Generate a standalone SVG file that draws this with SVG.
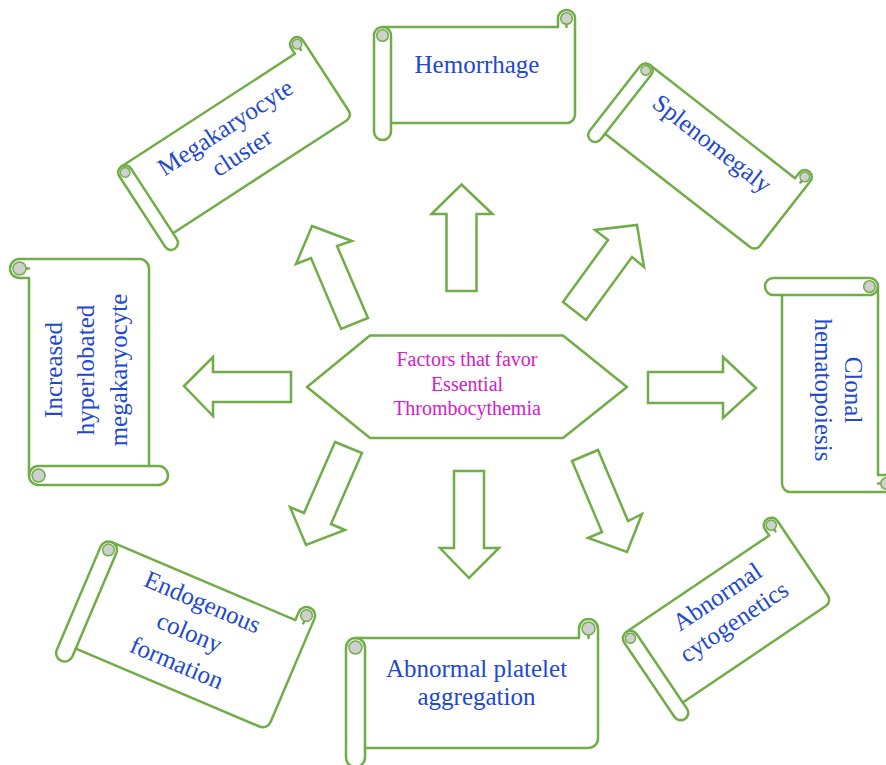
<svg xmlns="http://www.w3.org/2000/svg" width="886" height="765" viewBox="0 0 886 765">
<style>
.sc{fill:#fff;stroke:#70AD47;stroke-width:2.5;stroke-linejoin:round}
.dt{fill:none;stroke:#70AD47;stroke-width:2.5;stroke-linecap:round}
.gr{fill:#CFCFCF;stroke:#70AD47;stroke-width:1.5}
.ar{fill:#fff;stroke:#70AD47;stroke-width:2.5;stroke-linejoin:miter}
.t{font-family:"Liberation Serif","Times New Roman",serif;font-size:25px;fill:#2148D2;text-anchor:middle}
.c{font-family:"Liberation Serif","Times New Roman",serif;font-size:20px;fill:#D020CC;text-anchor:middle}
</style>
<rect width="886" height="765" fill="#fff"/>
<g id="connectors">
<polygon class="ar" points="461.5,184.5 492.5,214 476.5,214 476.5,291 446.5,291 446.5,214 431.5,214"/>
<polygon class="ar" points="312,226 352,241 337,246 368,318 341,329 311,258 296,264"/>
<polygon class="ar" points="637,225 644,267 632,257 586,320 563,302 608,240 595,230"/>
<polygon class="ar" points="184,386 213,357 213,372 291,372 291,402 213,402 213,416"/>
<polygon class="ar" points="756,388 723,357 723,372 648,372 648,403 723,403 723,418"/>
<polygon class="ar" points="335,442 362,453 331,524 345,530 306,545 290,507 304,513"/>
<polygon class="ar" points="454,471 484,471 484,548 499,548 469,578 440,548 454,548"/>
<polygon class="ar" points="572,461 598,450 628,521 642,514 627,552 588,538 602,532"/>
</g>
<g id="center">
<polygon class="sc" points="307,387 370,335.5 563,335.5 627,387 563,438 370,438"/>
<text class="c" x="467" y="366">Factors that favor</text>
<text class="c" x="467" y="391">Essential</text>
<text class="c" x="467" y="415">Thrombocythemia</text>
</g>
<g id="hemorrhage" transform="translate(474.5,75)">
<path class="sc" d="M-100.5,-39.5 A8.5,8.5 0 0 1 -92,-48 L83.5,-48 L83.5,-56.5 A8.5,8.5 0 0 1 100.5,-56.5 L100.5,39.5 A8.5,8.5 0 0 1 92,48 L-83.5,48 L-83.5,56.5 A8.5,8.5 0 0 1 -100.5,56.5 Z"/>
<path class="dt" d="M-92,-48 A8.5,8.5 0 0 1 -83.5,-39.5 L-83.5,48 M92,-48 L92,-56.5"/>
<circle class="gr" cx="92" cy="-56.5" r="5.8"/><circle class="gr" cx="-92" cy="-39.5" r="5.8"/>
<text class="t" x="2.5" y="-2">Hemorrhage</text>
</g>
<g id="platelet" transform="translate(472,693)">
<path class="sc" d="M-126,-45.5 A9.5,9.5 0 0 1 -116.5,-55 L107,-55 L107,-64.5 A9.5,9.5 0 0 1 126,-64.5 L126,45.5 A9.5,9.5 0 0 1 116.5,55 L-107,55 L-107,64.5 A9.5,9.5 0 0 1 -126,64.5 Z"/>
<path class="dt" d="M-116.5,-55 A9.5,9.5 0 0 1 -107,-45.5 L-107,55 M116.5,-55 L116.5,-64.5"/>
<circle class="gr" cx="116.5" cy="-64.5" r="6.5"/><circle class="gr" cx="-116.5" cy="-45.5" r="6.5"/>
<text class="t" x="4.5" y="-16">Abnormal platelet</text>
<text class="t" x="4.5" y="12">aggregation</text>
</g>
<g id="megakaryocyte" transform="translate(234,143.5) rotate(-33)">
<path class="sc" d="M-114,-35 A7,7 0 0 1 -107,-42 L100,-42 L100,-49 A7,7 0 0 1 114,-49 L114,35 A7,7 0 0 1 107,42 L-100,42 L-100,49 A7,7 0 0 1 -114,49 Z"/>
<path class="dt" d="M-107,-42 A7,7 0 0 1 -100,-35 L-100,42 M107,-42 L107,-49"/>
<circle class="gr" cx="107" cy="-49" r="4.8"/><circle class="gr" cx="-107" cy="-35" r="4.8"/>
<text class="t" x="1.5" y="-10">Megakaryocyte</text>
<text class="t" x="1.5" y="20">cluster</text>
</g>
<g id="splenomegaly" transform="translate(700,156) rotate(38)">
<path class="sc" d="M-102.5,-34 A7,7 0 0 1 -95.5,-41 L88.5,-41 L88.5,-48 A7,7 0 0 1 102.5,-48 L102.5,34 A7,7 0 0 1 95.5,41 L-88.5,41 L-88.5,48 A7,7 0 0 1 -102.5,48 Z"/>
<path class="dt" d="M-95.5,-41 A7,7 0 0 1 -88.5,-34 L-88.5,41 M95.5,-41 L95.5,-48"/>
<circle class="gr" cx="95.5" cy="-48" r="4.8"/><circle class="gr" cx="-95.5" cy="-34" r="4.8"/>
<text class="t" x="2" y="-9">Splenomegaly</text>
</g>
<g id="hyperlobated" transform="translate(89,372) rotate(-90)">
<path class="sc" d="M-113,-50.5 A9.5,9.5 0 0 1 -103.5,-60 L94,-60 L94,-69.5 A9.5,9.5 0 0 1 113,-69.5 L113,50.5 A9.5,9.5 0 0 1 103.5,60 L-94,60 L-94,69.5 A9.5,9.5 0 0 1 -113,69.5 Z"/>
<path class="dt" d="M-103.5,-60 A9.5,9.5 0 0 1 -94,-50.5 L-94,60 M103.5,-60 L103.5,-69.5"/>
<circle class="gr" cx="103.5" cy="-69.5" r="6.5"/><circle class="gr" cx="-103.5" cy="-50.5" r="6.5"/>
<text class="t" x="2" y="-27">Increased</text>
<text class="t" x="2" y="5">hyperlobated</text>
<text class="t" x="2" y="38">megakaryocyte</text>
</g>
<g id="clonal" transform="translate(830,385) rotate(90)">
<path class="sc" d="M-107,-39.5 A8.5,8.5 0 0 1 -98.5,-48 L90,-48 L90,-56.5 A8.5,8.5 0 0 1 107,-56.5 L107,39.5 A8.5,8.5 0 0 1 98.5,48 L-90,48 L-90,56.5 A8.5,8.5 0 0 1 -107,56.5 Z"/>
<path class="dt" d="M-98.5,-48 A8.5,8.5 0 0 1 -90,-39.5 L-90,48 M98.5,-48 L98.5,-56.5"/>
<circle class="gr" cx="98.5" cy="-56.5" r="5.8"/><circle class="gr" cx="-98.5" cy="-39.5" r="5.8"/>
<text class="t" x="5" y="-15">Clonal</text>
<text class="t" x="5" y="15">hematopoiesis</text>
</g>
<g id="endogenous" transform="translate(185.6,634.3) rotate(23)">
<path class="sc" d="M-112.5,-47.5 A8.5,8.5 0 0 1 -104,-56 L95.5,-56 L95.5,-64.5 A8.5,8.5 0 0 1 112.5,-64.5 L112.5,47.5 A8.5,8.5 0 0 1 104,56 L-95.5,56 L-95.5,64.5 A8.5,8.5 0 0 1 -112.5,64.5 Z"/>
<path class="dt" d="M-104,-56 A8.5,8.5 0 0 1 -95.5,-47.5 L-95.5,56 M104,-56 L104,-64.5"/>
<circle class="gr" cx="104" cy="-64.5" r="5.8"/><circle class="gr" cx="-104" cy="-47.5" r="5.8"/>
<text class="t" x="3" y="-28">Endogenous</text>
<text class="t" x="3" y="5">colony</text>
<text class="t" x="3" y="38">formation</text>
</g>
<g id="cytogenetics" transform="translate(726,619) rotate(-34)">
<path class="sc" d="M-97.5,-37.5 A7.5,7.5 0 0 1 -90,-45 L82.5,-45 L82.5,-52.5 A7.5,7.5 0 0 1 97.5,-52.5 L97.5,37.5 A7.5,7.5 0 0 1 90,45 L-82.5,45 L-82.5,52.5 A7.5,7.5 0 0 1 -97.5,52.5 Z"/>
<path class="dt" d="M-90,-45 A7.5,7.5 0 0 1 -82.5,-37.5 L-82.5,45 M90,-45 L90,-52.5"/>
<circle class="gr" cx="90" cy="-52.5" r="5.1"/><circle class="gr" cx="-90" cy="-37.5" r="5.1"/>
<text class="t" x="5" y="-15">Abnormal</text>
<text class="t" x="5" y="15">cytogenetics</text>
</g>
</svg>
